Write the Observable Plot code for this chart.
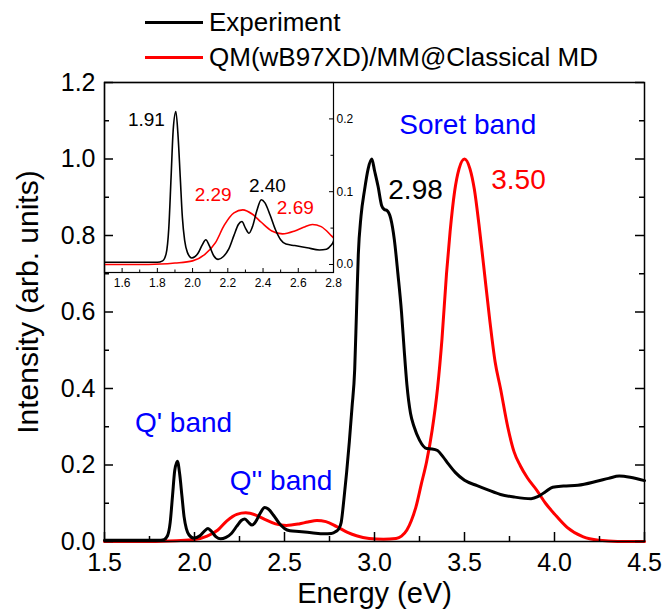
<!DOCTYPE html>
<html>
<head>
<meta charset="utf-8">
<script src="https://cdn.jsdelivr.net/npm/d3@7"></script>
<script src="https://cdn.jsdelivr.net/npm/@observablehq/plot@0.6"></script>
<style>
  html, body { margin: 0; padding: 0; background: #fff; }
  #wrap { position: relative; width: 665px; height: 609px; font-family: "Liberation Sans", Arial, sans-serif; }
  #main, #inset { position: absolute; }
  #main { left: 0; top: 0; }
  #inset { left: 104px; top: 82px; }
  .leg { position: absolute; left: 0; height: 30px; display: flex; align-items: center; }
  .leg .sw { position: absolute; left: 145px; width: 58px; height: 3px; }
  .leg .tx { position: absolute; left: 209px; font-size: 26px; white-space: nowrap; line-height: 30px; }
</style>
</head>
<body>
<div id="wrap">
  <div id="main"></div>
  <div id="inset"></div>
  <div class="leg" style="top:7px"><div class="sw" style="background:#000"></div><div class="tx">Experiment</div></div>
  <div class="leg" style="top:42px"><div class="sw" style="background:#ff0000"></div><div class="tx">QM(wB97XD)/MM@Classical MD</div></div>
</div>
<script>
// ---- data ----
const expEnergy = [1.50,1.80,1.83,1.85,1.865,1.878,1.89,1.905,1.918,1.93,1.942,1.955,1.97,1.995,2.03,2.055,2.075,2.095,2.12,2.145,2.175,2.205,2.235,2.26,2.28,2.30,2.32,2.34,2.365,2.39,2.41,2.44,2.47,2.50,2.53,2.58,2.65,2.72,2.76,2.785,2.80,2.815,2.83,2.845,2.86,2.875,2.89,2.90,2.91,2.925,2.945,2.965,2.985,3.00,3.02,3.04,3.055,3.07,3.09,3.11,3.13,3.15,3.165,3.18,3.20,3.22,3.25,3.29,3.32,3.35,3.38,3.41,3.45,3.50,3.57,3.63,3.70,3.78,3.87,3.91,3.95,3.99,4.05,4.13,4.24,4.30,4.36,4.42,4.50];
const expIntensity = [0.003,0.003,0.005,0.015,0.05,0.12,0.185,0.21,0.175,0.12,0.065,0.033,0.017,0.009,0.015,0.027,0.034,0.026,0.012,0.007,0.011,0.021,0.04,0.055,0.059,0.05,0.043,0.052,0.074,0.089,0.085,0.068,0.048,0.034,0.028,0.026,0.023,0.020,0.021,0.026,0.032,0.05,0.11,0.18,0.26,0.35,0.45,0.60,0.75,0.85,0.92,0.975,1.0,0.97,0.928,0.878,0.868,0.865,0.845,0.79,0.70,0.60,0.50,0.41,0.335,0.30,0.265,0.243,0.242,0.238,0.222,0.203,0.18,0.16,0.146,0.135,0.123,0.116,0.112,0.118,0.13,0.142,0.145,0.147,0.158,0.165,0.171,0.168,0.159];
const mdEnergy = [1.50,1.75,1.90,2.00,2.07,2.13,2.18,2.235,2.285,2.34,2.39,2.45,2.51,2.58,2.63,2.68,2.73,2.79,2.85,2.90,2.97,3.05,3.12,3.15,3.18,3.205,3.23,3.26,3.29,3.32,3.35,3.375,3.40,3.42,3.445,3.47,3.50,3.53,3.555,3.58,3.605,3.64,3.67,3.70,3.74,3.775,3.81,3.85,3.90,3.95,4.00,4.07,4.16,4.25,4.35,4.50];
const mdIntensity = [0,0,0.002,0.005,0.014,0.03,0.054,0.071,0.075,0.069,0.058,0.046,0.042,0.046,0.051,0.055,0.052,0.039,0.024,0.015,0.008,0.006,0.008,0.014,0.03,0.055,0.09,0.15,0.21,0.29,0.40,0.53,0.70,0.81,0.915,0.975,1.0,0.975,0.92,0.83,0.727,0.58,0.47,0.40,0.30,0.235,0.198,0.166,0.135,0.10,0.072,0.037,0.012,0.003,0,0];

const xMajor = [1.5,2.0,2.5,3.0,3.5,4.0,4.5];
const xMinor = [1.75,2.25,2.75,3.25,3.75,4.25];
const yMajor = [0,0.2,0.4,0.6,0.8,1.0,1.2];
const yMinor = [0.1,0.3,0.5,0.7,0.9,1.1];
const insetXMajor = [1.6,1.8,2.0,2.2,2.4,2.6,2.8];
const insetXMinor = [1.5,1.7,1.9,2.1,2.3,2.5,2.7];
const insetYMajor = [0,0.1,0.2];
const insetYMinor = [0.05,0.15];

const mainLabels = [
  {x: 3.518, y: 1.088, text: "Soret band", color: "#0000ff"},
  {x: 3.228, y: 0.918, text: "2.98", color: "#000000"},
  {x: 3.80, y: 0.944, text: "3.50", color: "#ff0000"},
  {x: 1.939, y: 0.311, text: "Q' band", color: "#0000ff"},
  {x: 2.481, y: 0.159, text: "Q'' band", color: "#0000ff"}
];
const insetLabels = [
  {x: 1.738, y: 0.199, text: "1.91", color: "#000000"},
  {x: 2.117, y: 0.0959, text: "2.29", color: "#ff0000"},
  {x: 2.425, y: 0.108, text: "2.40", color: "#000000"},
  {x: 2.583, y: 0.0778, text: "2.69", color: "#ff0000"}
];

const exp = expEnergy.map((e, i) => ({e, v: expIntensity[i]}));
const md = mdEnergy.map((e, i) => ({e, v: mdIntensity[i]}));
const font = "'Liberation Sans', Arial, sans-serif";
const fmt = d3.format(".1f");

// ---- main chart ----
const fw = 665 - 104 - 21, fh = 609 - 82 - 68;
const main = Plot.plot({
  width: 665, height: 609,
  marginLeft: 104, marginRight: 21, marginTop: 82, marginBottom: 68,
  x: {domain: [1.5, 4.5], ticks: xMajor, tickSize: 0, tickPadding: 12, tickFormat: fmt, label: null},
  y: {domain: [0, 1.2], ticks: yMajor, tickSize: 0, tickPadding: 9, tickFormat: fmt, label: null},
  style: {fontFamily: font, fontSize: "25px", background: "white", color: "#000"},
  marks: [
    Plot.line(md, {x: "e", y: "v", stroke: "#ff0000", strokeWidth: 3, curve: "monotone-x"}),
    Plot.line(exp, {x: "e", y: "v", stroke: "#000", strokeWidth: 3, curve: "monotone-x"}),
    Plot.tickX(xMajor, {x: d => d, insetTop: fh - 9, stroke: "#000", strokeWidth: 1.5}),
    Plot.tickX(xMinor, {x: d => d, insetTop: fh - 5, stroke: "#000", strokeWidth: 1.5}),
    Plot.tickY(yMajor, {y: d => d, insetRight: fw - 9, stroke: "#000", strokeWidth: 1.5}),
    Plot.tickY(yMinor, {y: d => d, insetRight: fw - 5, stroke: "#000", strokeWidth: 1.5}),
    Plot.tickY(yMajor, {y: d => d, insetLeft: fw - 9, stroke: "#000", strokeWidth: 1.5}),
    Plot.tickY(yMinor, {y: d => d, insetLeft: fw - 5, stroke: "#000", strokeWidth: 1.5}),
    Plot.frame({stroke: "#000", strokeWidth: 1.5}),
    Plot.text(mainLabels, {x: "x", y: "y", text: "text", fill: "color", fontSize: 28, fontFamily: font}),
    Plot.text(["Energy (eV)"], {x: 3.0, frameAnchor: "bottom", text: d => d, dy: 52, lineAnchor: "middle", textAnchor: "middle", fontSize: 29, fontFamily: font}),
    Plot.text(["Intensity (arb. units)"], {y: 0.626, frameAnchor: "left", text: d => d, dx: -76, rotate: -90, textAnchor: "middle", lineAnchor: "middle", fontSize: 30, fontFamily: font})
  ]
});
document.getElementById("main").appendChild(main);

// ---- inset ----
const iw = 229, ih = 190;
const inset = Plot.plot({
  width: iw + 36, height: ih + 22,
  marginLeft: 0, marginRight: 36, marginTop: 0, marginBottom: 22,
  x: {domain: [1.5, 2.8], ticks: insetXMajor, tickSize: 0, tickPadding: 6, tickFormat: fmt, label: null},
  y: {domain: [-0.011, 0.25], axis: "right", ticks: insetYMajor, tickSize: 0, tickPadding: 3, tickFormat: fmt, label: null},
  style: {fontFamily: font, fontSize: "12px", background: "transparent", color: "#000", overflow: "visible"},
  marks: [
    Plot.line(md, {filter: d => d.e <= 2.86, x: "e", y: "v", stroke: "#ff0000", strokeWidth: 1.6, curve: "monotone-x", clip: true}),
    Plot.line(exp, {filter: d => d.e <= 2.83, x: "e", y: "v", stroke: "#000", strokeWidth: 1.6, curve: "monotone-x", clip: true}),
    Plot.tickX(insetXMajor, {x: d => d, insetTop: ih - 4, stroke: "#000", strokeWidth: 1}),
    Plot.tickX(insetXMinor, {x: d => d, insetTop: ih - 2.5, stroke: "#000", strokeWidth: 1}),
    Plot.tickY(insetYMajor, {y: d => d, insetLeft: iw - 4, stroke: "#000", strokeWidth: 1}),
    Plot.tickY(insetYMinor, {y: d => d, insetLeft: iw - 2.5, stroke: "#000", strokeWidth: 1}),
    Plot.frame({stroke: "#000", strokeWidth: 1.2}),
    Plot.text(insetLabels, {x: "x", y: "y", text: "text", fill: "color", fontSize: 19, fontFamily: font})
  ]
});
document.getElementById("inset").appendChild(inset);
</script>
</body>
</html>
